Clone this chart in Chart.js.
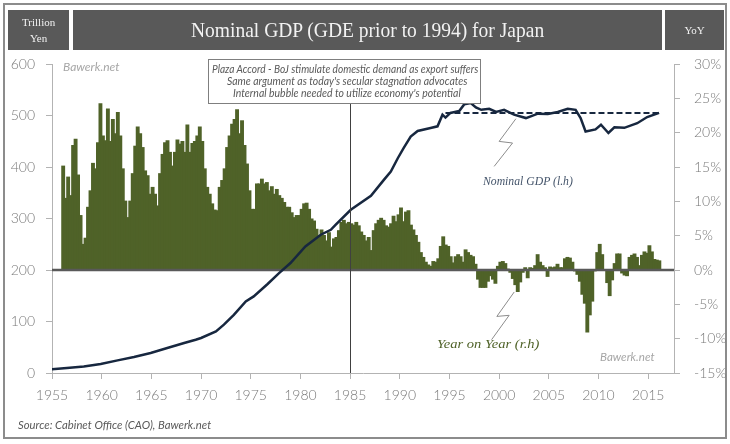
<!DOCTYPE html>
<html><head><meta charset="utf-8">
<script src="https://cdn.jsdelivr.net/npm/chart.js@4.4.1/dist/chart.umd.min.js"></script>
<style>
html,body{margin:0;padding:0;background:#fff;}
#wrap{position:relative;width:730px;height:444px;overflow:hidden;background:#fff;}
#frame{position:absolute;left:3px;top:3px;width:720px;height:432px;border:2px solid #8c8c8c;}
.hb{position:absolute;top:10px;height:40px;background:#595959;}
.t{position:absolute;white-space:nowrap;line-height:1;}
.serif{font-family:"Liberation Serif",serif;}
.sans{font-family:"Lato",sans-serif;}
#chart{position:absolute;left:0;top:0;}
#note{position:absolute;left:208px;top:59px;width:271px;height:43px;border:1px solid #7f7f7f;background:#fff;}
</style></head>
<body><div id="wrap">
<div id="frame"></div>
<div class="hb" style="left:8px;width:61px"></div>
<div class="hb" style="left:73px;width:589px"></div>
<div class="hb" style="left:665px;width:59px"></div>
<canvas id="chart" width="730" height="444"></canvas>
<div id="note"></div>
<span class="t serif fit" style="font-size:22px;color:#f2f2f2" data-cx="367.5" data-cy="30" data-w="353">Nominal GDP (GDE prior to 1994) for Japan</span>
<span class="t serif fit" style="font-size:11px;color:#f2f2f2" data-cx="38.5" data-cy="22">Trillion</span>
<span class="t serif fit" style="font-size:11px;color:#f2f2f2" data-cx="38.5" data-cy="38">Yen</span>
<span class="t serif fit" style="font-size:11px;color:#f2f2f2" data-cx="694.5" data-cy="30">YoY</span>
<span class="t sans fit" style="font-size:10.5px;font-style:italic;color:#595959" data-cx="345" data-cy="69" data-w="266">Plaza Accord - BoJ stimulate domestic demand as export suffers</span>
<span class="t sans fit" style="font-size:10.5px;font-style:italic;color:#595959" data-cx="347" data-cy="81" data-w="240">Same argument as today's secular stagnation advocates</span>
<span class="t sans fit" style="font-size:10.5px;font-style:italic;color:#595959" data-cx="347" data-cy="93" data-w="228">Internal bubble needed to utilize economy's potential</span>
<span class="t sans fit" style="font-size:12px;font-style:italic;color:#a6a6a6" data-x="63" data-cy="67" data-w="57">Bawerk.net</span>
<span class="t sans fit" style="font-size:12px;font-style:italic;color:#a6a6a6" data-rx="655" data-cy="357" data-w="55">Bawerk.net</span>
<span class="t serif fit" style="font-size:13px;font-style:italic;color:#44546a" data-x="483" data-cy="180" data-w="90">Nominal GDP (l.h)</span>
<span class="t serif fit" style="font-size:13px;font-style:italic;color:#4f6228" data-x="437" data-cy="343" data-w="103">Year on Year (r.h)</span>
<span class="t sans fit" style="font-size:11px;font-style:italic;color:#595959" data-x="18" data-cy="424" data-w="193">Source: Cabinet Office (CAO), Bawerk.net</span>
</div>
<script>
// ---- data ----
const xTickYears = [1955,1960,1965,1970,1975,1980,1985,1990,1995,2000,2005,2010,2015];

// Nominal GDP, trillion yen (left axis)
const gdpYears  = [1954.9,1956.5,1958.2,1959.9,1961.6,1963.25,1964.93,1966.6,1968.3,1969.46,1970.0,1971.5,1972.3,1973.3,1974.5,1975.3,1976.7,1977.85,1979.0,1980.5,1982.05,1983.06,1983.56,1985.07,1987.1,1988.4,1989.1,1989.8,1990.4,1991.1,1991.8,1993.1,1993.8,1994.3,1994.6,1995.1,1996.0,1996.5,1997.15,1997.66,1998.2,1999.0,1999.7,2000.5,2001.5,2002.7,2003.9,2004.9,2005.9,2006.9,2007.7,2008.2,2008.7,2009.7,2010.25,2011.0,2011.6,2012.6,2013.9,2014.9,2016.1];
const gdpValues = [7,9.7,12.8,17.5,24.5,31.1,38.8,48.5,58.3,64.7,68,80.8,93.8,113,139,148.7,172.8,194,213.6,245.8,268.5,278,288,317,344,375,391,417,437,459,470,475.7,479,501.6,496,505,509,522,524,515.7,511,513,506.8,511,501.6,495,503.5,503,506.8,513,511,495,469,473,482,466,477,476,485,497,505];

// Dashed reference level (left axis)
const dashYears = [1994.6, 2016.1];
const dashLevel = 505;

// Year on Year %, quarterly from 1956 Q1 (right axis)
const yoyFirstYear = 1956;
const yoyQuarterly = [
 15.1,10.4,13.5,10.8,  18.1,19.0,13.8,7.9,  3.7,4.6,9.1,11.5,  15.5,14.7,18.5,24.2,
 19.5,18.8,23.4,18.7,  21.9,19.8,22.9,19.5,  14.7,10.0,7.6,10.0,  14.0,18.0,20.8,19.8,
 17.8,14.4,13.7,11.0,  12.0,11.0,9.3,14.0,  16.8,18.5,18.8,17.1,  15.1,17.1,18.9,18.3,
 18.7,17.1,21.1,17.1,  18.4,18.7,19.5,20.8,  18.7,14.7,12.0,11.0,  9.6,8.7,8.6,12.0,
 13.0,14.7,17.8,19.5,  21.2,21.9,23.3,19.8,  21.7,18.1,15.4,11.5,  8.8,8.8,12.5,12.5,
 13.2,12.5,12.7,11.5,  12.1,11.0,11.7,10.8,  10.4,9.8,9.1,9.1,  8.3,7.6,7.9,7.9,
 8.8,9.6,9.7,8.8,  7.4,7.1,5.9,5.0,  5.8,5.0,4.2,5.4,  3.3,4.5,4.7,5.7,
 6.9,7.2,6.7,6.9,  6.7,6.5,6.9,6.4,  5.5,5.0,4.2,4.7,  2.8,5.7,6.7,7.2,
 7.5,7.2,6.4,6.2,  6.7,7.8,7.0,8.0,  9.0,7.0,8.4,8.6,  6.5,5.8,5.0,4.0,
 2.5,1.8,1.1,0.7,  0.5,1.2,1.1,1.6,  3.4,4.8,3.6,3.4,  1.9,1.0,1.9,2.2,
 1.9,1.1,2.9,2.5,  2.1,1.9,0.8,-1.3,  -2.5,-2.5,-2.5,-1.6,  -0.8,-1.3,-1.9,0.5,
 1.1,1.2,0.9,0.1,  -0.3,-1.2,-2.1,-3.1,  -1.7,-0.3,0.3,-1.1,  0.3,0.2,0.6,2.2,
 1.1,0.6,0.3,-0.9,  0.4,0.3,0.4,0.8,  0.3,0.3,1.6,1.8,  1.7,1.1,-0.1,-0.6,
 -1.6,-3.5,-4.8,-9.0,  -6.5,-4.5,-0.1,2.5,  3.7,2.2,0.0,-1.8,  -3.7,-1.4,0.9,2.3,
 2.3,-0.4,-0.7,-0.8,  1.8,2.1,2.3,1.8,  0.6,2.1,2.6,2.4,  3.5,2.6,1.5,1.4,
 1.3
];

// Annotation geometry, in data coordinates
const markerYear = 1985;
const gdpConnector = [[2001.69,493.8],[2000.0,449.7],[2001.35,446.6],[1999.5,401.2]];
const yoyConnector = [[2001.52,-3.2],[1999.77,-6.76],[2001.01,-6.6],[1999.24,-10.15]];

// ---- chart ----
const gdpPoints = gdpYears.map((x,i)=>({x, y:gdpValues[i]}));
const dashPoints = dashYears.map(x=>({x, y:dashLevel}));
const yoyPoints = yoyQuarterly.map((v,i)=>({x: yoyFirstYear + i/4 + 0.125, y:v}));

const AXIS = '#b3b3b3', LABEL = '#7a7a7a';
const tickFont = {family:'Lato', size:14, weight:'300'};

const overlay = {
  id:'overlay',
  afterDatasetDraw(chart, args){
    if (chart.data.datasets[args.index].type !== 'bar') return;
    const {ctx, chartArea, scales:{y2}} = chart;
    const py = y2.getPixelForValue(0);
    ctx.save();
    ctx.strokeStyle = '#595959'; ctx.lineWidth = 2.5;
    ctx.beginPath(); ctx.moveTo(chartArea.left, py); ctx.lineTo(chartArea.right, py); ctx.stroke();
    ctx.restore();
  },
  afterDatasetsDraw(chart){
    const {ctx, chartArea, scales:{x,y,y2}} = chart;
    ctx.save();
    const px = Math.round(x.getPixelForValue(markerYear)) + 0.5;
    ctx.strokeStyle = '#404040'; ctx.lineWidth = 1;
    ctx.beginPath(); ctx.moveTo(px, chartArea.top); ctx.lineTo(px, chartArea.bottom); ctx.stroke();
    ctx.strokeStyle = '#8c8c8c'; ctx.lineWidth = 1;
    const path = (pts, ys) => {
      ctx.beginPath();
      pts.forEach((p,i)=>{ const X=x.getPixelForValue(p[0]), Y=ys.getPixelForValue(p[1]); i?ctx.lineTo(X,Y):ctx.moveTo(X,Y); });
      ctx.stroke();
    };
    path(gdpConnector, y); path(yoyConnector, y2);
    ctx.restore();
  }
};

new Chart(document.getElementById('chart'), {
  type:'bar',
  data:{ datasets:[
    {type:'line', label:'Nominal GDP (l.h)', data:gdpPoints, xAxisID:'x', yAxisID:'y',
     borderColor:'#17273f', borderWidth:2.5, pointRadius:0, tension:0, order:0},
    {type:'line', label:'Level', data:dashPoints, xAxisID:'x', yAxisID:'y',
     borderColor:'#17273f', borderWidth:2, borderDash:[6,3], pointRadius:0, order:0},
    {type:'bar', label:'Year on Year (r.h)', data:yoyPoints, xAxisID:'x', yAxisID:'y2',
     backgroundColor:'#4f6228', borderWidth:0, inflateAmount:0.7, barPercentage:1, categoryPercentage:1, order:2}
  ]},
  options:{
    responsive:false, animation:false,
    plugins:{legend:{display:false}, tooltip:{enabled:false}},
    layout:{padding:{top:64,left:0,right:0,bottom:0}},
    scales:{
      x:{type:'linear', position:'bottom', min:1955, max:2017.6, offset:false,
         afterBuildTicks:s=>{ s.ticks = xTickYears.map(v=>({value:v})); },
         afterFit:s=>{ s.height = 71; },
         ticks:{callback:v=>String(v), color:LABEL, font:tickFont, padding:8, maxRotation:0, autoSkip:false},
         grid:{drawOnChartArea:false, offset:false, color:AXIS, tickLength:6},
         border:{color:AXIS, width:1}},
      y:{position:'left', min:0, max:600,
         afterFit:s=>{ s.width = 52; },
         ticks:{stepSize:100, callback:v=>String(v), color:LABEL, font:tickFont, padding:11},
         grid:{drawOnChartArea:false, color:AXIS, tickLength:6},
         border:{color:AXIS, width:1}},
      y2:{position:'right', min:-15, max:30,
         afterFit:s=>{ s.width = 56; },
         ticks:{stepSize:5, callback:v=>v+'%', color:LABEL, font:tickFont, padding:14},
         grid:{drawOnChartArea:false, color:AXIS, tickLength:6},
         border:{color:AXIS, width:1}}
    }
  },
  plugins:[overlay]
});

// position / fit HTML text
document.querySelectorAll('.fit').forEach(el=>{
  const nat = el.offsetWidth, h = el.offsetHeight;
  const w = el.dataset.w ? parseFloat(el.dataset.w) : nat;
  el.style.transformOrigin = '0 50%';
  el.style.transform = 'scaleX(' + (w/nat) + ')';
  let left;
  if (el.dataset.cx) left = parseFloat(el.dataset.cx) - w/2;
  else if (el.dataset.rx) left = parseFloat(el.dataset.rx) - w;
  else left = parseFloat(el.dataset.x);
  el.style.left = left + 'px';
  el.style.top = (parseFloat(el.dataset.cy) - h/2) + 'px';
});
</script>
</body></html>
